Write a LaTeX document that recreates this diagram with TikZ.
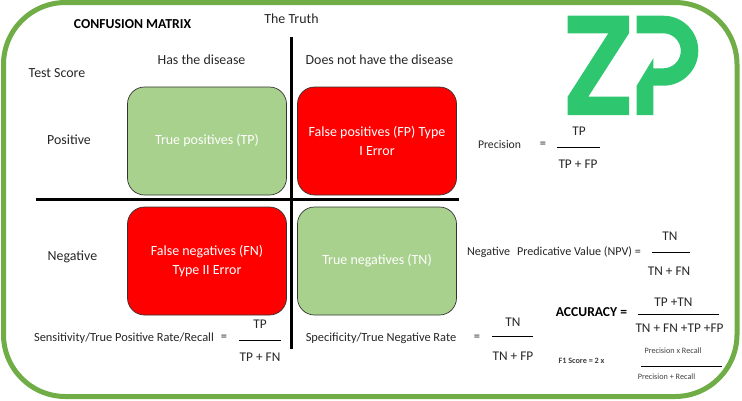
\documentclass[tikz,border=0pt]{standalone}
\usepackage{fontspec}
\setmainfont{Carlito}
\usetikzlibrary{positioning,calc}
\definecolor{framegreen}{HTML}{70AD47}
\definecolor{cellgreen}{HTML}{A9D18E}
\definecolor{logogreen}{HTML}{2EC76F}
\begin{document}
\begin{tikzpicture}[x=1pt,y=-1pt,
  txt/.style={font=\fontsize{13.9}{16}\selectfont, text=black!85, inner sep=0pt, align=center},
  small/.style={font=\fontsize{12.4}{14}\selectfont, text=black!85, inner sep=0pt, align=center},
  frac/.style={font=\fontsize{13.3}{15}\selectfont, text=black!85, inner sep=0pt, align=center},
  tiny/.style={font=\fontsize{8.2}{10}\selectfont, text=black!75, inner sep=0pt, align=center},
  cell/.style={draw=black!80, line width=0.7pt, rounded corners=17pt, minimum width=159pt, minimum height=108pt,
    text=white, align=center, font=\fontsize{14}{19}\selectfont, inner sep=0pt},
  axisl/.style={draw=black, line width=3pt},
  bar/.style={draw=black, line width=1pt},
]
\useasboundingbox (0,0) rectangle (742,400);
% ---------------- frame ----------------
\draw[framegreen, line width=5pt, rounded corners=62pt] (3.5,2.5) rectangle (737,396.5);
% ---------------- logo ----------------
\fill[logogreen] (567.7,15.7) -- (629,15.7) -- (629,33.3) -- (588.3,96.7) -- (629,96.7) -- (629,115)
  -- (567.7,115) -- (567.7,96.7) -- (608.3,33.3) -- (567.7,33.3) -- cycle;
\fill[logogreen] (636.7,15.7) -- (663.3,15.7) arc[start angle=-90, end angle=90, radius=35] -- (653.3,85.7) -- (653.3,115)
  -- (636.7,115) -- (636.7,85.7) -- (653.3,58.3) -- (653.3,68.3) -- (663.3,68.3)
  arc[start angle=90, end angle=-90, radius=17.5] -- (636.7,33.3) -- cycle;
% ---------------- matrix ----------------
\node[cell, fill=cellgreen] (tp) at (207,141) {True positives (TP)};
\node[cell, fill=red] (fp) at (377,141) {False positives (FP) Type\\I Error};
\node[cell, fill=red] (fn) at (207,261) {False negatives (FN)\\Type II Error};
\node[cell, fill=cellgreen] (tn) at (377,261) {True negatives (TN)};
\coordinate (vtop) at (291.5,37);
\coordinate (vbot) at (291.5,349);
\coordinate (hleft) at (36,199.5);
\coordinate (hright) at (459,199.5);
\draw[axisl] (vtop) -- (vbot);
\draw[axisl] (hleft) -- (hright);
% ---------------- headings ----------------
\node[txt, font=\fontsize{13.7}{16}\bfseries\selectfont, text=black] (title) at (132.5,24) {CONFUSION MATRIX};
\node[txt] (truth) at (291.5,19) {The Truth};
\node[txt] (score) at (57,73) {Test Score};
\node[txt] (has) at (201.5,60) {Has the disease};
\node[txt] (hasnot) at (379.5,60) {Does not have the disease};
\node[txt] (pos) at (69,140) {Positive};
\node[txt] (neg) at (72.5,257) {Negative};
% ---------------- precision ----------------
\node[small, font=\fontsize{11.7}{14}\selectfont] (prec) at (499.5,145) {Precision};
\node[small] (preceq) at (543,145) {=};
\node[frac] (precn) at (579,131) {TP};
\node[frac] (precd) at (578,164) {TP + FP};
\coordinate (precl) at (557,147);
\coordinate (precr) at (600,147);
\draw[bar] (precl) -- (precr);
% ---------------- npv ----------------
\node[small, font=\fontsize{12.1}{14}\selectfont] (npv) at (554,252) {Negative\,\, Predicative Value (NPV) =};
\node[frac] (npvn) at (670,236) {TN};
\node[frac] (npvd) at (669,271) {TN + FN};
\coordinate (npvl) at (652,252);
\coordinate (npvr) at (690,252);
\draw[bar] (npvl) -- (npvr);
% ---------------- sensitivity ----------------
\node[small] (sens) at (124,338) {Sensitivity/True Positive Rate/Recall};
\node[small] (senseq) at (224,338) {=};
\node[frac] (sensn) at (260,324) {TP};
\node[frac] (sensd) at (260,357) {TP + FN};
\coordinate (sensl) at (239,340);
\coordinate (sensr) at (281,340);
\draw[bar] (sensl) -- (sensr);
% ---------------- specificity ----------------
\node[small] (spec) at (381,338) {Specificity/True Negative Rate};
\node[small] (speceq) at (477,338) {=};
\node[frac] (specn) at (513,322) {TN};
\node[frac] (specd) at (513,356) {TN + FP};
\coordinate (specl) at (492,336);
\coordinate (specr) at (533,336);
\draw[bar] (specl) -- (specr);
% ---------------- accuracy ----------------
\node[txt, font=\fontsize{13.6}{16}\bfseries\selectfont, text=black] (acc) at (591.5,312) {ACCURACY =};
\node[frac] (accn) at (673.5,302) {TP +TN};
\node[frac] (accd) at (679.5,328) {TN + FN +TP +FP};
\coordinate (accl) at (638,314);
\coordinate (accr) at (719,314);
\draw[bar] (accl) -- (accr);
% ---------------- f1 ----------------
\node[tiny, font=\fontsize{8.2}{10}\bfseries\selectfont] (fone) at (581.5,361) {F1 Score = 2 x};
\node[tiny] (fonen) at (673,351) {Precision x Recall};
\node[tiny] (foned) at (666.5,377) {Precision + Recall};
\coordinate (fonel) at (641,366);
\coordinate (foner) at (722,366);
\draw[bar] (fonel) -- (foner);
\end{tikzpicture}
\end{document}
